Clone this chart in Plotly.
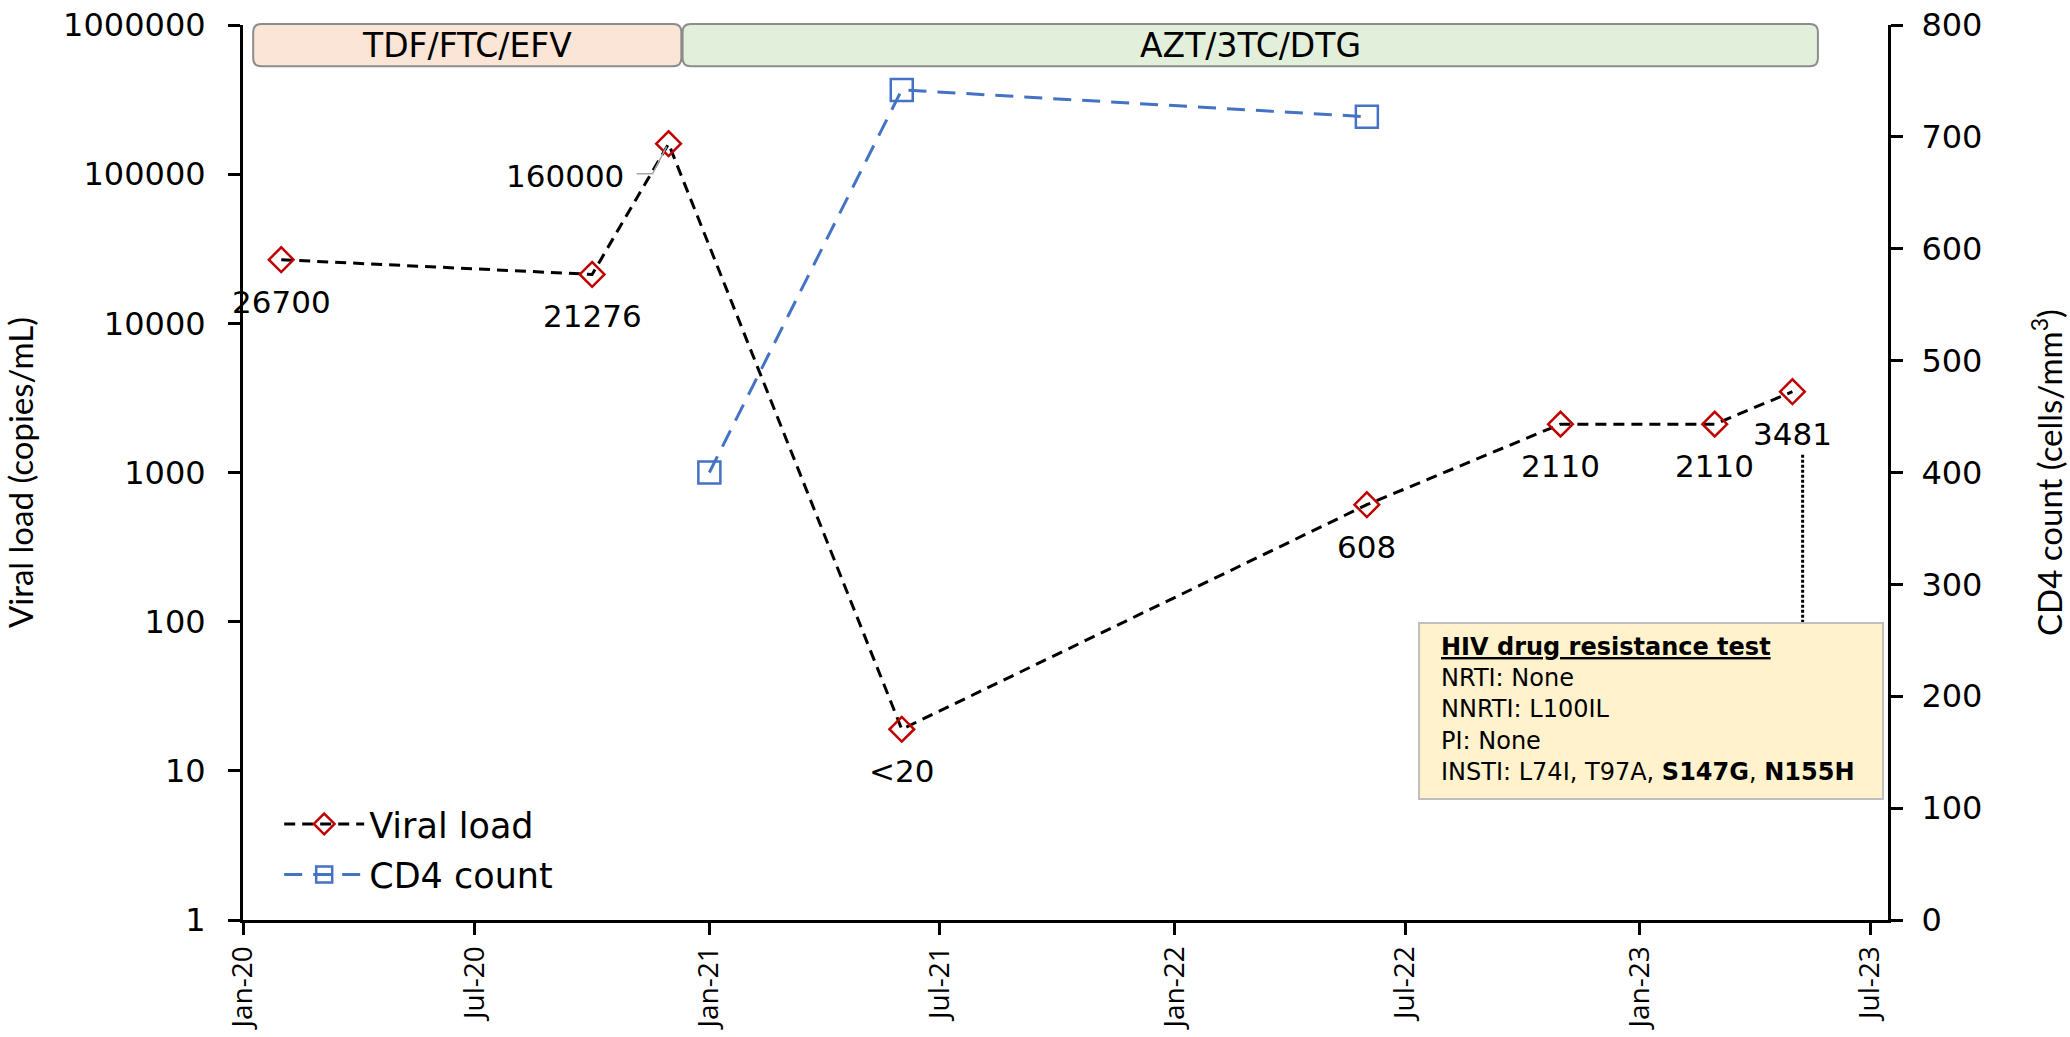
import math
import pandas as pd
import plotly.graph_objects as go

# ---------------- data ----------------
vl_dates = ["2020-01-31", "2020-10-01", "2020-11-30", "2021-06-01",
            "2022-06-01", "2022-10-31", "2023-03-01", "2023-05-01"]
vl_values = [26700, 21276, 160000, 19, 608, 2110, 2110, 3481]
vl_labels = ["26700", "21276", "160000", "<20", "608", "2110", "2110", "3481"]

cd4_dates = ["2021-01-01", "2021-06-01", "2022-06-01"]
cd4_values = [400, 742, 718]

regimen_names = ["TDF/FTC/EFV", "AZT/3TC/DTG"]
regimen_start = ["2020-01-09", "2020-12-11"]
regimen_end = ["2020-12-10", "2023-05-21"]
regimen_colors = ["#FBE5D6", "#E2EFDA"]

resistance_date = "2023-05-09"
resistance_lines = [
    "<b><u>HIV drug resistance test</u></b>",
    "NRTI: None",
    "NNRTI: L100IL",
    "PI: None",
    "INSTI: L74I, T97A, <b>S147G</b>, <b>N155H</b>",
]

x_range = ["2020-01-01", "2023-07-15"]
vl_ticks = [1, 10, 100, 1000, 10000, 100000, 1000000]
cd4_ticks = [0, 100, 200, 300, 400, 500, 600, 700, 800]

# ---------------- style ----------------
WIDE = "DejaVu Sans"
OPEN = "Open Sans"
CAL = "Lato"
FS = 31

fig = go.Figure()

fig.add_trace(go.Scatter(
    x=vl_dates, y=vl_values, name="Viral load", mode="lines+markers",
    legendgroup="vl",
    line=dict(color="black", width=3, dash="11px,7px"),
    marker=dict(symbol="diamond-open", size=19, color="#C00000",
                line=dict(color="#C00000", width=2.5)),
    yaxis="y",
))
fig.add_trace(go.Scatter(
    x=cd4_dates, y=cd4_values, name="CD4 count", mode="lines+markers",
    legendgroup="cd4",
    line=dict(color="#4472C4", width=3, dash="18px,11px"),
    marker=dict(symbol="square-open", size=22, color="#4472C4",
                line=dict(color="#4472C4", width=2.5)),
    yaxis="y2",
))

# ---------------- data labels ----------------
annotations = []
shapes = []
imax = vl_values.index(max(vl_values))
for i, (d, v, t) in enumerate(zip(vl_dates, vl_values, vl_labels)):
    if i == imax:
        # label to the lower left with an elbow leader line
        annotations.append(dict(
            x=d, y=math.log10(v), xref="x", yref="y", text=t,
            showarrow=False, xshift=-104, yshift=-32,
            font=dict(family=WIDE, size=FS, color="black")))
        shapes.append(dict(
            type="path", xref="x", yref="y",
            xsizemode="pixel", ysizemode="pixel",
            xanchor=d, yanchor=v,
            path="M-32,-30 L-16,-30 L-2,-3",
            line=dict(color="#A6A6A6", width=1.5)))
    else:
        annotations.append(dict(
            x=d, y=math.log10(v), xref="x", yref="y", text=t,
            showarrow=False, yshift=-42,
            font=dict(family=WIDE, size=FS, color="black")))

# ---------------- regimen bars ----------------
x0_ts = pd.Timestamp(x_range[0])
x1_ts = pd.Timestamp(x_range[1])
span = (x1_ts - x0_ts).total_seconds()


def frac(d):
    return (pd.Timestamp(d) - x0_ts).total_seconds() / span


PLOT_W = 2070 - 243 - 182
PLOT_H = 1037 - 25 - 117
rx = 8 / PLOT_W
ry = 8 / PLOT_H
ybot, ytop = 0.954, 1.001

for name, s, e, c in zip(regimen_names, regimen_start, regimen_end, regimen_colors):
    a, b = frac(s), frac(e)
    path = (f"M{a+rx},{ybot} L{b-rx},{ybot} Q{b},{ybot} {b},{ybot+ry} "
            f"L{b},{ytop-ry} Q{b},{ytop} {b-rx},{ytop} L{a+rx},{ytop} "
            f"Q{a},{ytop} {a},{ytop-ry} L{a},{ybot+ry} Q{a},{ybot} {a+rx},{ybot} Z")
    shapes.append(dict(type="path", xref="paper", yref="paper", path=path,
                       fillcolor=c, line=dict(color="#8C8C8C", width=2)))
    annotations.append(dict(
        x=(a + b) / 2, y=(ybot + ytop) / 2, xref="paper", yref="paper",
        text=name, showarrow=False, xanchor="center", yanchor="middle",
        font=dict(family=WIDE, size=33, color="black")))

# ---------------- resistance test box ----------------
shapes.append(dict(type="line", xref="x", yref="paper",
                   x0=resistance_date, x1=resistance_date, y0=0.332, y1=0.522,
                   line=dict(color="black", width=3, dash="3px,2px")))
bx0 = (1419 - 243) / PLOT_W
bx1 = (1883 - 243) / PLOT_W
by1 = (920 - 623) / PLOT_H
by0 = (920 - 799) / PLOT_H
shapes.append(dict(type="rect", xref="paper", yref="paper",
                   x0=bx0, x1=bx1, y0=by0, y1=by1,
                   fillcolor="#FFF2CC", line=dict(color="#BFBFBF", width=2)))
annotations.append(dict(
    x=(1439 - 243) / PLOT_W, y=(920 - 631) / PLOT_H, xref="paper", yref="paper",
    text="<br>".join(resistance_lines), showarrow=False, align="left",
    xanchor="left", yanchor="top",
    font=dict(family=WIDE, size=24, color="black")))

axis_common = dict(
    showline=True, linecolor="black", linewidth=3,
    ticks="outside", ticklen=12, tickwidth=3, tickcolor="black",
    showgrid=False, zeroline=False, automargin=False,
)

fig.update_layout(
    width=2070, height=1037,
    margin=dict(l=243, r=182, t=25, b=117, autoexpand=False),
    paper_bgcolor="white", plot_bgcolor="white",
    font=dict(family=WIDE, size=FS, color="black"),
    showlegend=True,
    legend=dict(x=0.022, y=0.14, xanchor="left", yanchor="top",
                bgcolor="rgba(0,0,0,0)", font=dict(family=WIDE, size=35),
                tracegroupgap=2, itemwidth=80),
    xaxis=dict(
        type="date", range=x_range, dtick="M6", tick0="2020-01-01",
        tickformat="%b-%y", tickangle=-90,
        tickfont=dict(family=OPEN, size=28),
        ticklabelstandoff=0,
        **axis_common,
    ),
    yaxis=dict(
        type="log", range=[0, 6], tickvals=vl_ticks, tickformat="d",
        tickfont=dict(family=WIDE, size=32),
        ticklabelstandoff=16,
        title=dict(text="Viral load (copies/mL)",
                   font=dict(family=CAL, size=33), standoff=38),
        **axis_common,
    ),
    yaxis2=dict(
        overlaying="y", side="right", range=[0, 800], tickvals=cd4_ticks,
        tickfont=dict(family=WIDE, size=32),
        ticklabelstandoff=12,
        title=dict(text="CD4 count (cells/mm<sup>3</sup>)",
                   font=dict(family=CAL, size=33), standoff=58),
        **axis_common,
    ),
    annotations=annotations,
    shapes=shapes,
)

fig.write_html("out.html", config={"displayModeBar": False},
               post_script="document.body.style.margin='0';document.body.style.overflow='hidden';")
